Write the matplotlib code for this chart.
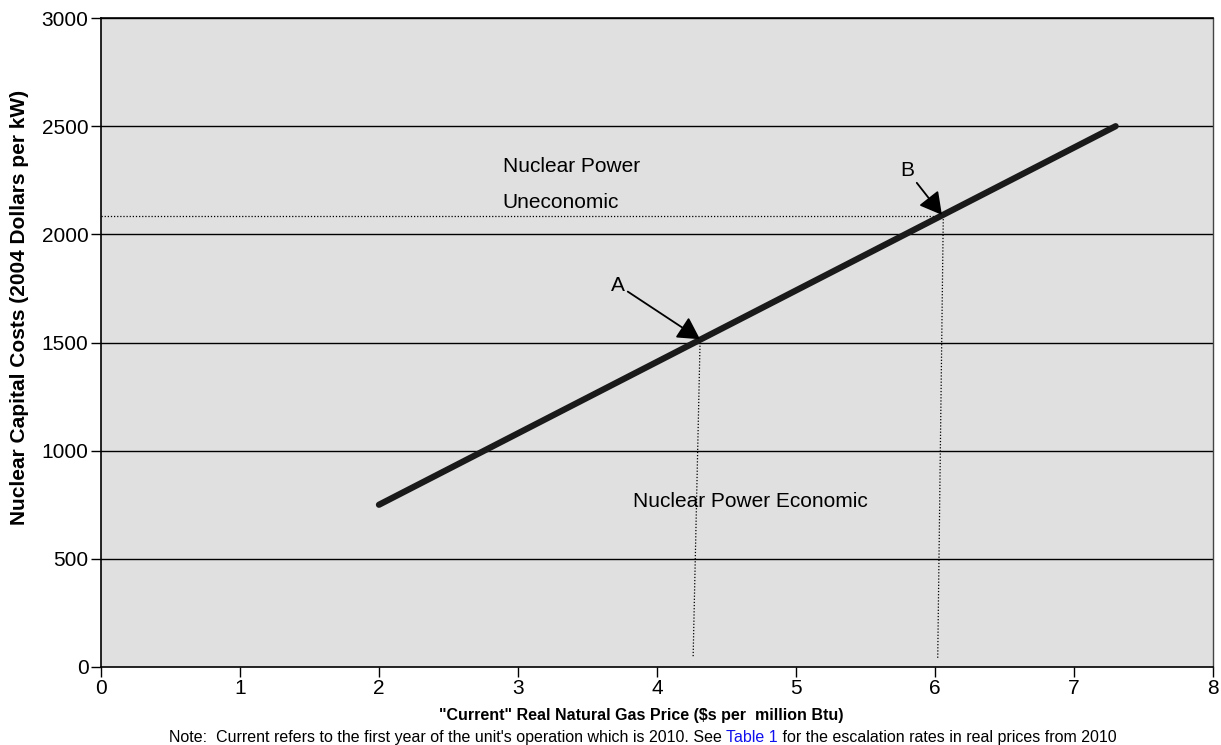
import matplotlib.pyplot as plt

plt.rcParams['font.family'] = ['Liberation Sans', 'DejaVu Sans']

# break-even line: gas price vs nuclear capital cost
gas_price = [2.0, 7.3]
capital_cost = [750, 2500]

# marked points
point_a = (4.31, 1500)
point_b = (6.06, 2085)
drop_bottom = 42

y_ticks = [0, 500, 1000, 1500, 2000, 2500, 3000]
x_ticks = [0, 1, 2, 3, 4, 5, 6, 7, 8]

fig = plt.figure(figsize=(12.21, 7.45), dpi=100)
ax = fig.add_axes([0.0827, 0.1047, 0.9107, 0.8711])
ax.set_facecolor('#e0e0e0')

for y in y_ticks[1:]:
    ax.axhline(y, color='black', lw=1.0, zorder=1)

ax.plot(gas_price, capital_cost, color='#1a1a1a', lw=4.5, solid_capstyle='round', zorder=3)

# dotted guide lines
ax.plot([0, point_b[0]], [point_b[1], point_b[1]], color='black', lw=0.9, ls=(0, (1, 1.5)), zorder=2)
ax.plot([point_b[0], point_b[0] - 0.04], [point_b[1], drop_bottom], color='black', lw=0.9, ls=(0, (1, 1.5)), zorder=2)
ax.plot([point_a[0], point_a[0] - 0.05], [point_a[1], drop_bottom], color='black', lw=0.9, ls=(0, (1, 1.5)), zorder=2)

arrow = dict(arrowstyle='-|>,head_length=0.9,head_width=0.5', color='black', lw=1.3, shrinkA=0, shrinkB=0)
ax.annotate('A', xy=(4.31, 1515), xytext=(3.72, 1765), fontsize=15, ha='center', va='center',
            arrowprops=arrow, zorder=4)
ax.annotate('B', xy=(6.05, 2090), xytext=(5.8, 2295), fontsize=15, ha='center', va='center',
            arrowprops=arrow, zorder=4)

ax.text(2.89, 2315, 'Nuclear Power', fontsize=15, ha='left', va='center')
ax.text(2.89, 2145, 'Uneconomic', fontsize=15, ha='left', va='center')
ax.text(3.83, 767, 'Nuclear Power Economic', fontsize=15, ha='left', va='center')

ax.set_xlim(0, 8)
ax.set_ylim(0, 3000)
ax.set_xticks(x_ticks)
ax.set_yticks(y_ticks)
ax.tick_params(labelsize=15, length=7, width=1, direction='out', color='black', pad=2)
for side in ['left', 'bottom', 'top']:
    ax.spines[side].set_linewidth(1.2)
ax.spines['right'].set_linewidth(1.0)
ax.spines['right'].set_color('#444444')

fig.text(0.0156, 0.588, 'Nuclear Capital Costs (2004 Dollars per kW)', fontsize=15, fontweight='bold',
         rotation=90, ha='center', va='center')
fig.text(0.525, 0.039, '"Current" Real Natural Gas Price ($s per  million Btu)', fontsize=11.5,
         fontweight='bold', ha='center', va='center')

# note line with blue "Table 1"
renderer = fig.canvas.get_renderer()
parts = [("Note:  Current refers to the first year of the unit's operation which is 2010. See ", 'black'),
         ('Table 1', '#1010ee'),
         (' for the escalation rates in real prices from 2010', 'black')]
x0 = 169 / 1221
for txt, col in parts:
    t = fig.text(x0, 0.0107, txt, fontsize=11.5, color=col, ha='left', va='center')
    bb = t.get_window_extent(renderer)
    x0 += bb.width / fig.bbox.width

fig.savefig('out.png', dpi=100)
